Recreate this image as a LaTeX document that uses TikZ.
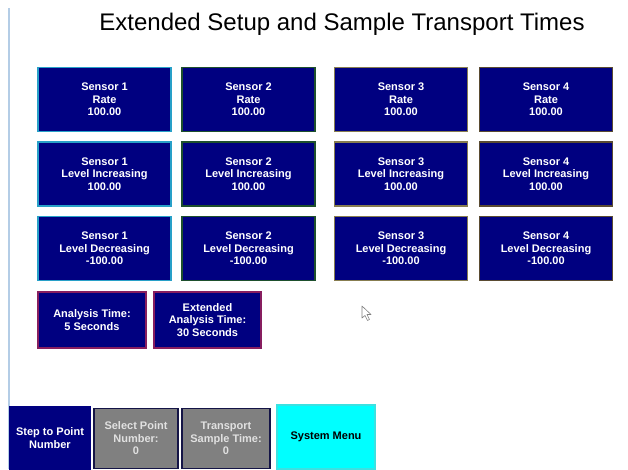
\documentclass[tikz,border=0pt]{standalone}
\usepackage{fontspec}
\setmainfont{Liberation Sans}
\definecolor{navyfill}{RGB}{0,0,128}
\definecolor{bdA}{RGB}{40,160,200}
\definecolor{bdB}{RGB}{30,80,45}
\definecolor{bdC}{RGB}{135,125,80}
\definecolor{bdD}{RGB}{90,75,50}
\definecolor{bdE}{RGB}{135,30,95}
\definecolor{bdF}{RGB}{20,20,70}
\definecolor{greyfill}{RGB}{128,128,128}
\definecolor{greytext}{RGB}{225,225,225}
\definecolor{cyanfill}{RGB}{0,255,255}
\definecolor{cyanbd}{RGB}{60,225,225}
\definecolor{sideline}{RGB}{180,205,230}
\begin{document}
\begin{tikzpicture}[x=1pt,y=-1pt,
  btn/.style={rectangle,fill=navyfill,text=white,align=center,inner sep=0pt,
    line width=1.5pt,font=\bfseries\fontsize{11}{12.5}\selectfont},
  sensor/.style={btn,minimum width=133pt,minimum height=64pt},
  greybtn/.style={btn,fill=greyfill,draw=bdF,text=greytext}]
\useasboundingbox (0,0) rectangle (628,469);
\fill[white] (0,0) rectangle (628,469);
\draw[sideline,line width=2pt] (9,8) -- (9,469);
\node[font=\fontsize{24}{28}\selectfont] (title) at (342,24) {Extended Setup and Sample Transport Times};
% row 1
\node[sensor,draw=bdA] (s1r) at (104.5,99.5) {Sensor 1\\Rate\\100.00};
\node[sensor,draw=bdB] (s2r) at (248.5,99.5) {Sensor 2\\Rate\\100.00};
\node[sensor,draw=bdC] (s3r) at (401,99.5) {Sensor 3\\Rate\\100.00};
\node[sensor,draw=bdD] (s4r) at (546,99.5) {Sensor 4\\Rate\\100.00};
% row 2
\node[sensor,draw=bdA] (s1i) at (104.5,174) {Sensor 1\\Level Increasing\\100.00};
\node[sensor,draw=bdB] (s2i) at (248.5,174) {Sensor 2\\Level Increasing\\100.00};
\node[sensor,draw=bdC] (s3i) at (401,174) {Sensor 3\\Level Increasing\\100.00};
\node[sensor,draw=bdD] (s4i) at (546,174) {Sensor 4\\Level Increasing\\100.00};
% row 3
\node[sensor,draw=bdA] (s1d) at (104.5,248.5) {Sensor 1\\Level Decreasing\\-100.00};
\node[sensor,draw=bdB] (s2d) at (248.5,248.5) {Sensor 2\\Level Decreasing\\-100.00};
\node[sensor,draw=bdC] (s3d) at (401,248.5) {Sensor 3\\Level Decreasing\\-100.00};
\node[sensor,draw=bdD] (s4d) at (546,248.5) {Sensor 4\\Level Decreasing\\-100.00};
% analysis
\node[btn,draw=bdE,minimum width=108pt,minimum height=56pt] (at) at (92,320) {Analysis Time:\\5 Seconds};
\node[btn,draw=bdE,minimum width=107pt,minimum height=56pt] (eat) at (207.5,320) {Extended\\Analysis Time:\\30 Seconds};
% bottom
\node[btn,draw=navyfill,minimum width=80pt,minimum height=62pt] (step) at (50,438) {Step to Point\\Number};
\node[greybtn,minimum width=84pt,minimum height=60pt] (sel) at (136,438.5) {Select Point\\Number:\\0};
\node[greybtn,minimum width=88pt,minimum height=60pt] (tst) at (226,438.5) {Transport\\Sample Time:\\0};
\node[btn,fill=cyanfill,draw=cyanbd,text=black,minimum width=98pt,minimum height=64pt] (sys) at (326,437) {System Menu};
% mouse cursor
\draw[gray,fill=white,line width=0.6pt,line join=round] (362,306) -- (362,318) -- (365,315.5) -- (367.5,320.5) -- (369.5,319.5) -- (367,314.5) -- (371,314.5) -- cycle;
\end{tikzpicture}
\end{document}
